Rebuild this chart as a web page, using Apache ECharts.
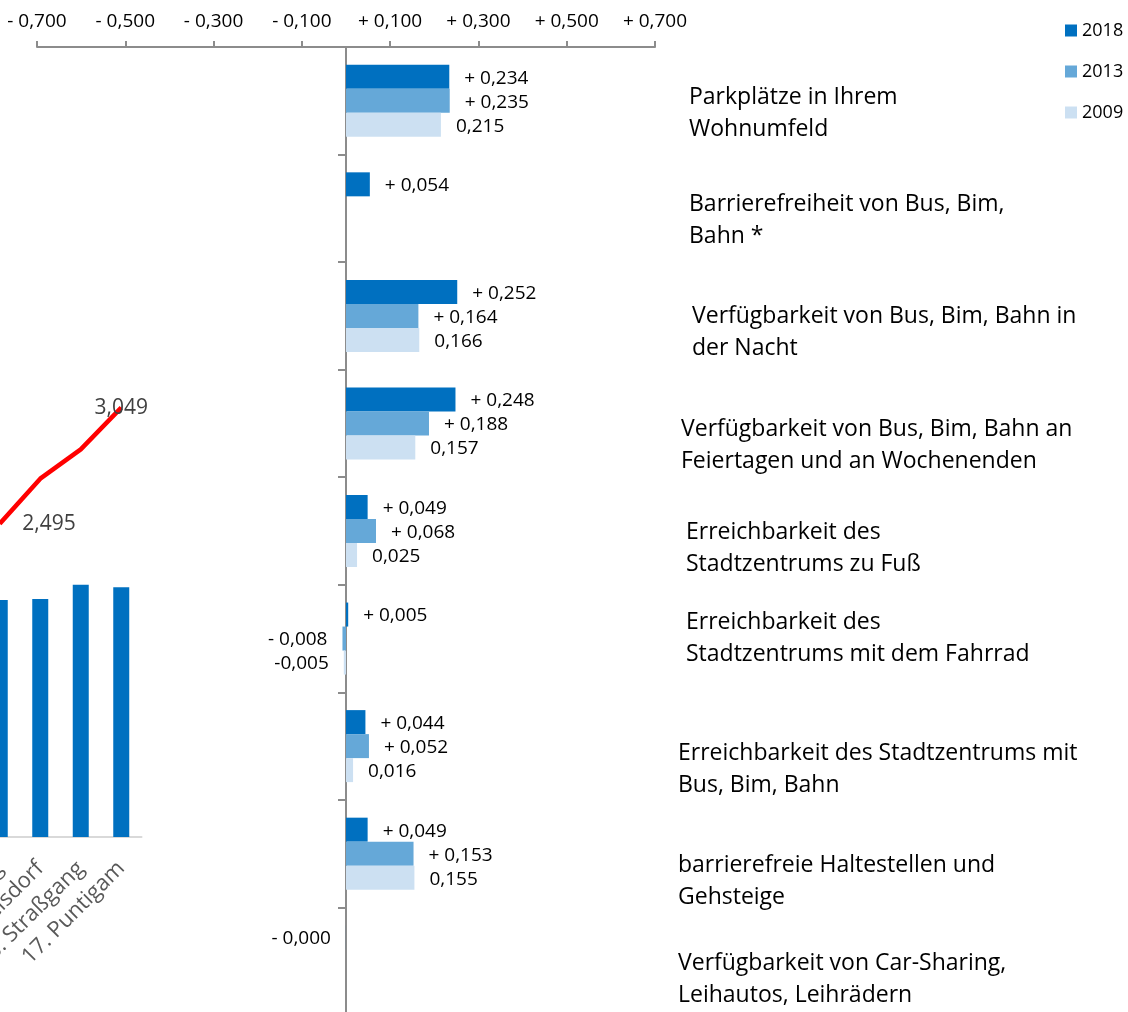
<!DOCTYPE html>
<html>
<head>
<meta charset="utf-8">
<script src="https://cdn.jsdelivr.net/npm/echarts@6/dist/echarts.min.js"></script>
<style>
  html, body { margin: 0; padding: 0; background: #fff; }
  #chart { width: 1128px; height: 1012px; }
</style>
</head>
<body>
<div id="chart"></div>
<script>
// main chart: change of ratings, 2018 / 2013 / 2009
const categories = [
  'Parkplätze in Ihrem\nWohnumfeld',
  'Barrierefreiheit von Bus, Bim,\nBahn *',
  'Verfügbarkeit von Bus, Bim, Bahn in\nder Nacht',
  'Verfügbarkeit von Bus, Bim, Bahn an\nFeiertagen und an Wochenenden',
  'Erreichbarkeit des\nStadtzentrums zu Fuß',
  'Erreichbarkeit des\nStadtzentrums mit dem Fahrrad',
  'Erreichbarkeit des Stadtzentrums mit\nBus, Bim, Bahn',
  'barrierefreie Haltestellen und\nGehsteige',
  'Verfügbarkeit von Car-Sharing,\nLeihautos, Leihrädern'
];
const years = ['2018', '2013', '2009'];
const values2018 = [0.234, 0.054, 0.252, 0.248, 0.049, 0.005, 0.044, 0.049, -0.0001];
const values2013 = [0.235, null, 0.164, 0.188, 0.068, -0.008, 0.052, 0.153, null];
const values2009 = [0.215, null, 0.166, 0.157, 0.025, -0.005, 0.016, 0.155, null];
const axisTicks = [-0.7, -0.5, -0.3, -0.1, 0.1, 0.3, 0.5, 0.7];

// cut-off chart on the left (districts)
const districts = ['14. Eggenberg', '15. Wetzelsdorf', '16. Straßgang', '17. Puntigam'];
const districtBars = [51.4, 51.6, 54.7, 54.2];
const districtLine = [2.495, 2.71, 2.85, 3.049];

// small nudges of the text boxes on the right [dx, dy]
const labelNudge = [[11, 13], [11, 12], [14, 17], [3, 22], [8, 17], [8, 0], [0, 23], [0, 28], [0, 18]];

const FONT = 'Open Sans';
const colors = ['#0070C0', '#65A8D8', '#CCE0F2'];
const axisGray = '#8c8c8c';

function fmt(v, withPlus) {
  const s = Math.abs(v).toFixed(3).replace('.', ',');
  if (withPlus) return (v < 0 ? '- ' : '+ ') + s;
  return (v < 0 ? '-' : '') + s;
}

function barSeries(name, vals, idx, withPlus) {
  return {
    name: name,
    type: 'bar',
    xAxisIndex: 0,
    yAxisIndex: 0,
    barWidth: 24,
    barGap: '0%',
    itemStyle: { color: colors[idx] },
    label: {
      show: true,
      distance: 15,
      offset: [0, 1.5],
      fontFamily: FONT,
      fontSize: 19,
      color: '#000',
      formatter: p => fmt(p.value, withPlus)
    },
    data: vals.map(v => v == null ? '-' : {
      value: v,
      label: { position: v < 0 ? 'left' : 'right' }
    })
  };
}

// rich styles: an invisible spacer line pushes each text block down a little
const rich = {};
labelNudge.forEach((n, i) => {
  rich['s' + i] = { fontSize: 1, lineHeight: Math.max(0, n[1]) * 2, width: n[0] };
  rich['t' + i] = { fontFamily: FONT, fontSize: 23, lineHeight: 32, color: '#000', padding: [0, 0, 0, n[0]] };
});

const chart = echarts.init(document.getElementById('chart'));
chart.setOption({
  backgroundColor: '#fff',
  animation: false,
  textStyle: { fontFamily: FONT },
  legend: {
    data: years,
    orient: 'vertical',
    left: 1065,
    top: 20,
    padding: 0,
    icon: 'rect',
    itemWidth: 12,
    itemHeight: 12,
    itemGap: 20,
    textStyle: { fontFamily: FONT, fontSize: 18, color: '#000', lineHeight: 21 }
  },
  grid: [
    { left: 37, top: 47, width: 618, height: 968, outerBoundsMode: 'none' },
    { left: -20.5, top: 376, width: 162, height: 461, outerBoundsMode: 'none' }
  ],
  xAxis: [
    {
      gridIndex: 0,
      type: 'value',
      position: 'top',
      min: -0.7,
      max: 0.7,
      interval: 0.2,
      splitLine: { show: false },
      axisLine: { show: true, lineStyle: { color: axisGray, width: 2 } },
      axisTick: { show: true, length: 6, lineStyle: { color: axisGray, width: 2 } },
      axisLabel: {
        fontFamily: FONT,
        fontSize: 19,
        color: '#000',
        margin: 16,
        formatter: v => {
          const t = axisTicks.find(a => Math.abs(a - v) < 1e-6);
          return t === undefined ? '' : fmt(t, true);
        }
      }
    },
    {
      gridIndex: 1,
      type: 'category',
      data: districts,
      axisLine: { lineStyle: { color: '#d9d9d9', width: 2 } },
      axisTick: { show: false },
      axisLabel: {
        interval: 0,
        rotate: 45,
        margin: 28,
        fontFamily: FONT,
        fontSize: 22,
        color: '#595959'
      }
    }
  ],
  yAxis: [
    {
      gridIndex: 0,
      type: 'category',
      inverse: true,
      data: categories,
      axisLine: { show: true, onZero: true, lineStyle: { color: axisGray, width: 2 } },
      axisTick: { show: true, length: 8, lineStyle: { color: axisGray, width: 2 } },
      axisLabel: { show: false },
      splitLine: { show: false }
    },
    {
      gridIndex: 0,
      type: 'category',
      inverse: true,
      position: 'right',
      data: categories,
      axisLine: { show: false },
      axisTick: { show: false },
      axisLabel: {
        interval: 0,
        showMinLabel: true,
        showMaxLabel: true,
        margin: 23,
        align: 'left',
        fontFamily: FONT,
        fontSize: 23,
        lineHeight: 32,
        color: '#000',
        rich: rich,
        formatter: (value, index) => {
          const lines = value.split('\n').map(l => '{t' + index + '|' + l + '}');
          return '{s' + index + '| }\n' + lines.join('\n');
        }
      }
    },
    {
      gridIndex: 1,
      type: 'value',
      min: 0,
      max: 100,
      show: false,
      splitLine: { show: false }
    },
    {
      gridIndex: 1,
      type: 'value',
      min: 1,
      max: 3.2,
      show: false,
      splitLine: { show: false }
    }
  ],
  series: [
    barSeries('2018', values2018, 0, true),
    barSeries('2013', values2013, 1, true),
    barSeries('2009', values2009, 2, false),
    {
      name: 'Bezirk',
      type: 'bar',
      xAxisIndex: 1,
      yAxisIndex: 2,
      barWidth: 16,
      itemStyle: { color: '#0070C0' },
      data: districtBars
    },
    {
      name: 'Index',
      type: 'line',
      xAxisIndex: 1,
      yAxisIndex: 3,
      showSymbol: true,
      symbol: 'circle',
      symbolSize: 1,
      itemStyle: { color: '#ff0000' },
      lineStyle: { color: '#ff0000', width: 4.5 },
      z: 5,
      data: districtLine.map((v, i) => ({
        value: v,
        label: {
          show: i === 0 || i === districtLine.length - 1,
          position: i === 0 ? 'right' : 'inside',
          distance: 22,
          fontFamily: FONT,
          fontSize: 21,
          color: '#404040',
          formatter: p => p.value.toFixed(3).replace('.', ',')
        }
      }))
    }
  ]
});
</script>
</body>
</html>
